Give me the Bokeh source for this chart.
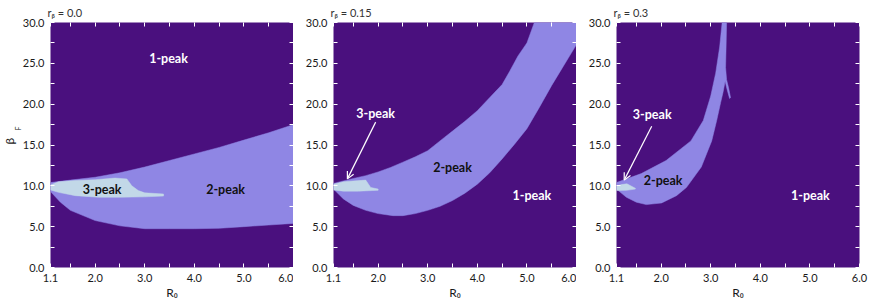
import math
from bokeh.plotting import figure
from bokeh.layouts import row
from bokeh.models import Label, Arrow, OpenHead, FixedTicker, LinearAxis, Title
from bokeh.embed import file_html
from bokeh.resources import INLINE

# ---------------- data ----------------
X_TICKS = [1.1, 1.5, 2.0, 2.5, 3.0, 3.5, 4.0, 4.5, 5.0, 5.5, 6.0]
X_TICK_LABELS = ["1.1", "", "2.0", "", "3.0", "", "4.0", "", "5.0", "", "6.0"]
Y_TICKS = [0, 2.5, 5, 7.5, 10, 12.5, 15, 17.5, 20, 22.5, 25, 27.5, 30]
Y_TICK_LABELS = ["0.0", "", "5.0", "", "10.0", "", "15.0", "", "20.0", "", "25.0", "", "30.0"]

R_BETA = ["0.0", "0.15", "0.3"]

# panel 1 (r_beta = 0.0): 2-peak region
p1_two_upper_r = [1.1, 1.5, 2.0, 2.5, 3.0, 3.5, 4.0, 4.5, 5.0, 5.5, 6.0]
p1_two_upper_b = [10.4, 10.7, 11.05, 11.6, 12.3, 13.1, 13.9, 14.7, 15.6, 16.5, 17.5]
p1_two_lower_r = [6.0, 5.5, 5.0, 4.5, 4.0, 3.5, 3.0, 2.5, 2.0, 1.5, 1.3, 1.1]
p1_two_lower_b = [5.4, 5.2, 5.0, 4.8, 4.75, 4.75, 4.75, 5.1, 5.75, 7.0, 8.0, 9.3]
# panel 1: 3-peak region
p1_three_upper_r = [1.1, 1.26, 1.6, 2.0, 2.4, 2.64, 2.74, 2.87, 3.0, 3.38]
p1_three_upper_b = [10.1, 10.5, 10.65, 10.75, 10.95, 10.85, 10.0, 9.42, 9.14, 9.0]
p1_three_lower_r = [3.38, 3.0, 2.5, 2.07, 1.6, 1.26, 1.1]
p1_three_lower_b = [8.75, 8.65, 8.6, 8.6, 8.8, 9.2, 9.5]

# panel 2 (r_beta = 0.15): 2-peak region
p2_two_upper_r = [1.1, 1.5, 1.75, 2.0, 2.25, 2.5, 2.75, 3.0, 3.33, 3.5, 3.75, 4.0, 4.28,
                  4.5, 4.65, 4.82, 5.0, 5.15, 6.0]
p2_two_upper_b = [10.3, 10.9, 11.25, 11.7, 12.25, 12.9, 13.55, 14.3, 15.9, 16.7, 17.9, 19.2,
                  21.0, 22.4, 24.0, 25.9, 27.5, 30.0, 30.0]
p2_two_lower_r = [6.0, 5.75, 5.5, 5.25, 5.0, 4.75, 4.5, 4.25, 4.0, 3.75, 3.5, 3.25, 3.0,
                  2.75, 2.5, 2.3, 2.0, 1.75, 1.5, 1.3, 1.1]
p2_two_lower_b = [27.3, 24.8, 22.3, 19.6, 17.0, 15.1, 13.3, 11.6, 10.2, 9.1, 8.2, 7.5, 7.0,
                  6.6, 6.35, 6.35, 6.6, 7.0, 7.6, 8.4, 9.6]
# panel 2: 3-peak region
p2_three_upper_r = [1.1, 1.3, 1.75, 1.85, 2.0]
p2_three_upper_b = [10.2, 10.5, 10.7, 9.8, 9.6]
p2_three_lower_r = [2.0, 1.6, 1.3, 1.1]
p2_three_lower_b = [9.45, 9.35, 9.35, 9.5]

# panel 3 (r_beta = 0.3): 2-peak region
p3_two_upper_r = [1.1, 1.6, 2.1, 2.6, 2.85, 3.0, 3.1, 3.18, 3.23, 3.32]
p3_two_upper_b = [10.4, 11.5, 13.1, 15.5, 18.0, 21.0, 23.8, 27.0, 30.0, 30.0]
p3_two_lower_r = [3.31, 3.30, 3.32, 3.36, 3.40, 3.38, 3.33, 3.29, 3.25, 3.2, 3.12, 3.02,
                  2.81, 2.51, 2.31, 2.01, 1.7, 1.5, 1.3, 1.1]
p3_two_lower_b = [27.0, 24.5, 23.0, 22.0, 20.8, 20.7, 21.8, 22.8, 21.5, 20.2, 18.0, 15.5,
                  12.3, 9.8, 8.8, 7.9, 7.7, 8.0, 8.6, 9.6]
# panel 3: 3-peak region
p3_three_upper_r = [1.1, 1.2, 1.31, 1.48]
p3_three_upper_b = [9.96, 10.15, 10.25, 9.7]
p3_three_lower_r = [1.48, 1.3, 1.1]
p3_three_lower_b = [9.6, 9.45, 9.43]

# ---------------- style ----------------
DARK = "#4a107e"
LAV = "#8f86e4"
PALE = "#c2d8e8"
FONT = "Lato"
TXT = "#1a1a1a"

FRAME_W, FRAME_H = 243, 245


def style_axis(ax, ticks, labels, show_labels):
    ax.ticker = FixedTicker(ticks=ticks)
    ax.major_label_overrides = {t: l for t, l in zip(ticks, labels)} if show_labels else {t: "" for t in ticks}
    ax.axis_line_color = None
    ax.major_tick_in = 4
    ax.major_tick_out = 0
    ax.major_tick_line_color = "white"
    ax.major_tick_line_width = 1
    ax.minor_tick_line_color = None
    ax.major_label_text_font = FONT
    ax.major_label_text_color = TXT
    ax.major_label_text_font_size = "11px" if show_labels else "0px"
    ax.major_label_standoff = 6 if show_labels else 0


def make_panel(idx, two_u_r, two_u_b, two_l_r, two_l_b,
               thr_u_r, thr_u_b, thr_l_r, thr_l_b,
               labels, arrow, left_border, right_border):
    p = figure(frame_width=FRAME_W, frame_height=FRAME_H,
               x_range=(1.1, 6.0), y_range=(0, 30),
               output_backend="svg", toolbar_location=None,
               min_border_left=left_border, min_border_right=right_border,
               min_border_top=22, min_border_bottom=30,
               background_fill_color=DARK, border_fill_color="white",
               outline_line_color=None)
    p.grid.visible = False
    style_axis(p.xaxis[0], X_TICKS, X_TICK_LABELS, True)
    style_axis(p.yaxis[0], Y_TICKS, Y_TICK_LABELS, True)
    p.xaxis[0].axis_label = "R\u2080"
    p.xaxis[0].axis_label_text_font = FONT
    p.xaxis[0].axis_label_text_font_style = "normal"
    p.xaxis[0].axis_label_text_font_size = "12px"
    p.xaxis[0].axis_label_text_color = TXT
    p.xaxis[0].axis_label_standoff = 0

    top = LinearAxis()
    style_axis(top, X_TICKS, X_TICK_LABELS, False)
    p.add_layout(top, "above")
    rgt = LinearAxis()
    style_axis(rgt, Y_TICKS, Y_TICK_LABELS, False)
    p.add_layout(rgt, "right")

    # panel title  r_beta = value  (subscript beta as a Unicode character)
    p.title.text = "r\u1d66 = " + R_BETA[idx]
    p.title.text_font = FONT
    p.title.text_font_size = "11px"
    p.title.text_font_style = "normal"
    p.title.text_color = "#333333"
    p.title.align = "left"
    p.title.offset = -3
    p.title.standoff = 7

    p.patch(x=two_u_r + two_l_r, y=two_u_b + two_l_b, fill_color=LAV,
            line_color=LAV, line_width=0.5)
    p.patch(x=thr_u_r + thr_l_r, y=thr_u_b + thr_l_b, fill_color=PALE,
            line_color=PALE, line_width=0.5)

    for text, x, y, color in labels:
        p.add_layout(Label(x=x, y=y, text=text, text_align="center", text_baseline="middle",
                           text_font=FONT, text_font_style="bold", text_font_size="12.5px",
                           text_color=color))
    if arrow is not None:
        (x0, y0), (x1, y1) = arrow
        p.add_layout(Arrow(x_start=x0, y_start=y0, x_end=x1, y_end=y1,
                           line_color="white", line_width=1.2,
                           end=OpenHead(size=7, line_color="white", line_width=1.2)))

    if idx == 0:
        # y label: beta with subscript F, as two side titles (offset measured from frame bottom)
        p.add_layout(Title(text="F", align="left", offset=137, standoff=-4,
                           text_font=FONT, text_font_size="7px", text_font_style="normal",
                           text_color=TXT), "left")
        p.add_layout(Title(text="\u03b2", align="left", offset=123, standoff=-6,
                           text_font=FONT, text_font_size="12px", text_font_style="normal",
                           text_color=TXT), "left")
    return p


p1 = make_panel(0, p1_two_upper_r, p1_two_upper_b, p1_two_lower_r, p1_two_lower_b,
                p1_three_upper_r, p1_three_upper_b, p1_three_lower_r, p1_three_lower_b,
                [("1-peak", 3.48, 25.6, "white"), ("3-peak", 2.14, 9.6, "#111111"),
                 ("2-peak", 4.63, 9.6, "#111111")],
                None, 50, 0)
p2 = make_panel(1, p2_two_upper_r, p2_two_upper_b, p2_two_lower_r, p2_two_lower_b,
                p2_three_upper_r, p2_three_upper_b, p2_three_lower_r, p2_three_lower_b,
                [("3-peak", 1.95, 18.8, "white"), ("2-peak", 3.5, 12.3, "#111111"),
                 ("1-peak", 5.1, 8.8, "white")],
                ((1.95, 17.8), (1.38, 10.85)), 40, 0)
p3 = make_panel(2, p3_two_upper_r, p3_two_upper_b, p3_two_lower_r, p3_two_lower_b,
                p3_three_upper_r, p3_three_upper_b, p3_three_lower_r, p3_three_lower_b,
                [("3-peak", 1.82, 18.7, "white"), ("2-peak", 2.04, 10.7, "#111111"),
                 ("1-peak", 5.01, 8.8, "white")],
                ((1.81, 17.3), (1.255, 10.7)), 40, 10)

layout = row(p1, p2, p3)
open("out.html", "w").write(file_html(layout, INLINE))
